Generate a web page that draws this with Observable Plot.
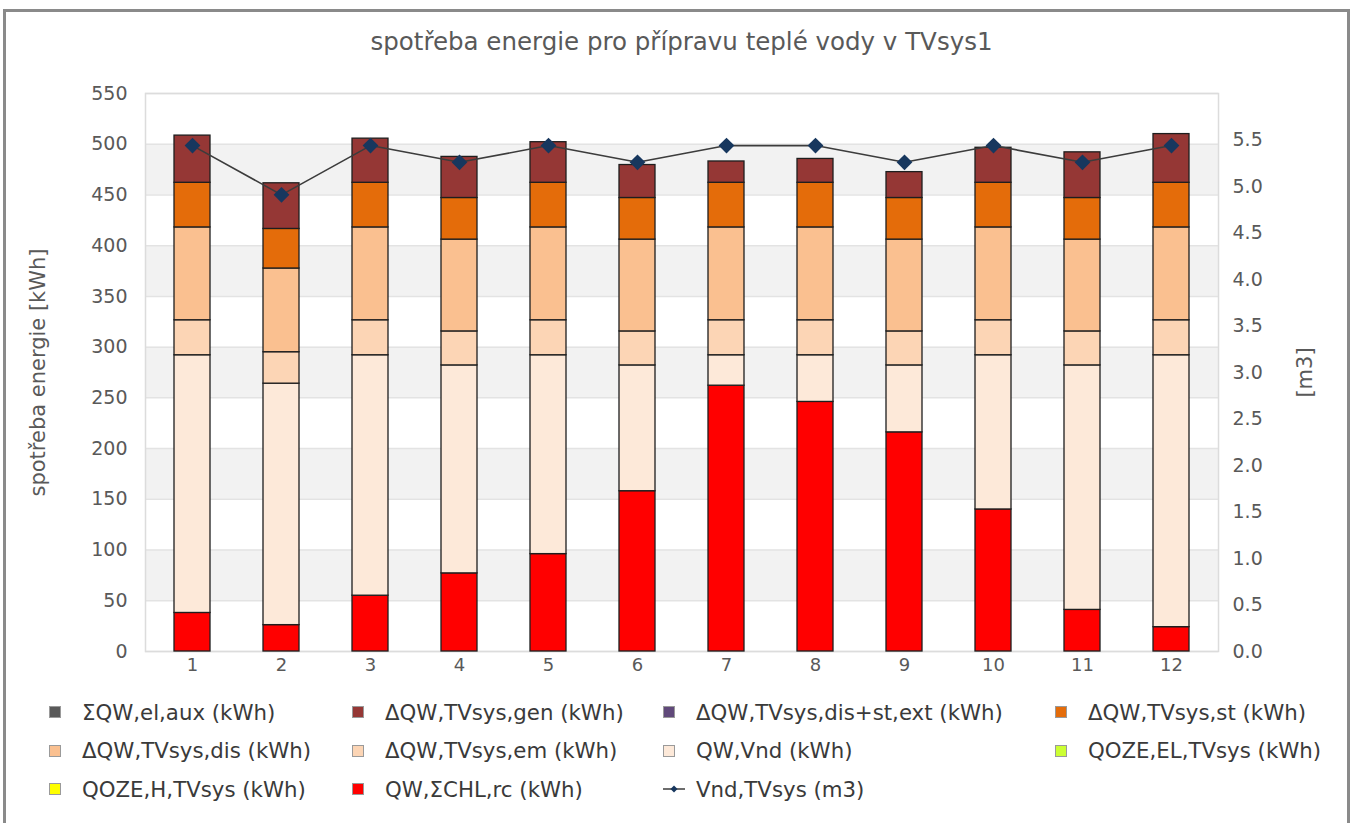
<!DOCTYPE html>
<html>
<head>
<meta charset="utf-8">
<script src="https://cdn.jsdelivr.net/npm/d3@7"></script>
<script src="https://cdn.jsdelivr.net/npm/@observablehq/plot@0.6"></script>
<style>
  html, body { margin: 0; padding: 0; background: #fff; }
  body { width: 1355px; height: 823px; position: relative; overflow: hidden; font-family: "DejaVu Sans", sans-serif; }
  #frame { position: absolute; left: 3px; top: 9px; width: 1347px; height: 840px; border: 3px solid #8a8a8a; box-sizing: border-box; }
  #title { position: absolute; left: 145px; width: 1073px; top: 28px; text-align: center; font-size: 24.5px; line-height: 28px; color: #595959; }
  #chart { position: absolute; left: 0; top: 60px; }
  #legend { position: absolute; left: 49px; top: 693px; display: grid; grid-template-columns: 303px 311px 392px 270px; grid-auto-rows: 38.5px; font-size: 21.3px; color: #3a3a3a; }
  .item { display: flex; align-items: center; white-space: nowrap; }
  .sw { width: 12px; height: 12px; border: 1px solid #9a9a9a; box-sizing: border-box; margin-right: 21px; flex: none; }
  .ln { width: 22px; height: 12px; margin-right: 11px; flex: none; }
</style>
</head>
<body>
<div id="frame"></div>
<div id="title">spotřeba energie pro přípravu teplé vody v TVsys1</div>
<div id="chart"></div>
<div id="legend"></div>
<script>
// ---- data ----
const months = [1, 2, 3, 4, 5, 6, 7, 8, 9, 10, 11, 12];
const qwRc   = [38, 26, 55, 77, 96, 158, 262, 246, 216, 140, 41, 24];          // QW,ΣCHL,rc
const qwVnd  = [254, 238, 237, 205, 196, 124, 30, 46, 66, 152, 241, 268];      // QW,Vnd
const dqEm   = [34.5, 31, 34.5, 33.5, 34.5, 33.5, 34.5, 34.5, 33.5, 34.5, 33.5, 34.5];
const dqDis  = [91.5, 82.5, 91.5, 90.5, 91.5, 90.5, 91.5, 91.5, 90.5, 91.5, 90.5, 91.5];
const dqSt   = [44, 39, 44, 41, 44, 41, 44, 44, 41, 44, 41, 44];
const dqExt  = [0, 0, 0, 0, 0, 0, 0, 0, 0, 0, 0, 0];
const dqGen  = [46.5, 45, 43.5, 40.5, 40, 32.5, 21, 23.5, 25.5, 34.5, 45, 48];
const qwAux  = [0, 0, 0, 0, 0, 0, 0, 0, 0, 0, 0, 0];
const qozeEl = [0, 0, 0, 0, 0, 0, 0, 0, 0, 0, 0, 0];
const qozeH  = [0, 0, 0, 0, 0, 0, 0, 0, 0, 0, 0, 0];
const vnd    = [5.44, 4.91, 5.44, 5.26, 5.44, 5.26, 5.44, 5.44, 5.26, 5.44, 5.26, 5.44]; // m3

const leftTicks  = [0, 50, 100, 150, 200, 250, 300, 350, 400, 450, 500, 550];
const rightTicks = [0, 0.5, 1, 1.5, 2, 2.5, 3, 3.5, 4, 4.5, 5, 5.5];
const rightMax = 6;
const leftMax = 550;
const leftLabel = "spotřeba energie [kWh]";
const rightLabel = "[m3]";

// series: stacking order bottom -> top
const stackNames = ["QW,ΣCHL,rc (kWh)", "QW,Vnd (kWh)", "ΔQW,TVsys,em (kWh)", "ΔQW,TVsys,dis (kWh)",
  "ΔQW,TVsys,st (kWh)", "ΔQW,TVsys,dis+st,ext (kWh)", "ΔQW,TVsys,gen (kWh)", "ΣQW,el,aux (kWh)",
  "QOZE,EL,TVsys (kWh)", "QOZE,H,TVsys (kWh)"];
const stackValues = [qwRc, qwVnd, dqEm, dqDis, dqSt, dqExt, dqGen, qwAux, qozeEl, qozeH];
const stackColors = ["#ff0000", "#fde9d9", "#fcd5b5", "#fac090", "#e46c0a", "#60497a", "#953735", "#595959", "#ccff33", "#ffff00"];
const lineName = "Vnd,TVsys (m3)";

// legend order (as in the reference)
const legendOrder = ["ΣQW,el,aux (kWh)", "ΔQW,TVsys,gen (kWh)", "ΔQW,TVsys,dis+st,ext (kWh)", "ΔQW,TVsys,st (kWh)",
  "ΔQW,TVsys,dis (kWh)", "ΔQW,TVsys,em (kWh)", "QW,Vnd (kWh)", "QOZE,EL,TVsys (kWh)",
  "QOZE,H,TVsys (kWh)", "QW,ΣCHL,rc (kWh)", lineName];

// ---- build tables ----
const long = [];
stackNames.forEach((name, si) => {
  months.forEach((m, i) => {
    const v = stackValues[si][i];
    if (v > 0) long.push({month: m, series: name, value: v});
  });
});
const lineData = months.map((m, i) => ({month: m, v: vnd[i]}));
const toLeft = v => v * leftMax / rightMax;
const bands = [];
for (let i = 1; i + 1 < leftTicks.length; i += 2) bands.push({y1: leftTicks[i], y2: leftTicks[i + 1]});

const chart = Plot.plot({
  width: 1355,
  height: 630,
  marginTop: 33,
  marginBottom: 39,
  marginLeft: 145,
  marginRight: 137,
  style: {fontFamily: "DejaVu Sans", fontSize: "19px", color: "#595959", background: "transparent"},
  x: {type: "band", domain: months, paddingInner: 0.6, paddingOuter: 0.3, label: null},
  y: {domain: [0, leftMax], label: null},
  color: {domain: stackNames, range: stackColors},
  marks: [
    Plot.rect(bands, {y1: "y1", y2: "y2", fill: "#f2f2f2"}),
    Plot.ruleY(leftTicks, {stroke: "#e3e3e3", strokeWidth: 1.5}),
    Plot.frame({stroke: "#dcdcdc", strokeWidth: 1.5}),
    Plot.barY(long, {x: "month", y: "value", fill: "series", stroke: "#1e1e1e", strokeWidth: 1.3, order: stackNames}),
    Plot.line(lineData, {x: "month", y: d => toLeft(d.v), stroke: "#3c3c3c", strokeWidth: 1.6}),
    Plot.dot(lineData, {x: "month", y: d => toLeft(d.v), symbol: "square", rotate: 45, r: 6.3, fill: "#17375e", stroke: "none"}),
    Plot.axisX({tickSize: 0, tickPadding: 7, fontSize: 18, label: null}),
    Plot.axisY(leftTicks, {anchor: "left", tickSize: 0, tickPadding: 18, fontSize: 19, label: null}),
    Plot.axisY(rightTicks.map(toLeft), {anchor: "right", tickSize: 0, tickPadding: 14, fontSize: 19,
      tickFormat: d => (d * rightMax / leftMax).toFixed(1), label: null}),
    Plot.text([leftLabel], {frameAnchor: "left", textAnchor: "middle", rotate: -90, dx: -107, fontSize: 21, fill: "#595959", text: d => d}),
    Plot.text([rightLabel], {frameAnchor: "right", textAnchor: "middle", rotate: -90, dx: 87, fontSize: 21, fill: "#595959", text: d => d})
  ]
});
document.getElementById("chart").appendChild(chart);

// ---- legend ----
const legend = document.getElementById("legend");
legendOrder.forEach(name => {
  const item = document.createElement("div");
  item.className = "item";
  if (name === lineName) {
    item.innerHTML = `<svg class="ln" viewBox="0 0 22 12"><line x1="0" y1="6" x2="22" y2="6" stroke="#3c3c3c" stroke-width="1.5"/><path d="M11 2.5 L14.5 6 L11 9.5 L7.5 6 Z" fill="#17375e"/></svg>`;
  } else {
    const sw = document.createElement("span");
    sw.className = "sw";
    sw.style.background = stackColors[stackNames.indexOf(name)];
    item.appendChild(sw);
  }
  const t = document.createElement("span");
  t.textContent = name;
  item.appendChild(t);
  legend.appendChild(item);
});
</script>
</body>
</html>
